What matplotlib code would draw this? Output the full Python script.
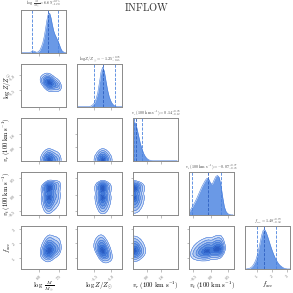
import numpy as np
import matplotlib
matplotlib.use("Agg")
import matplotlib.pyplot as plt

plt.rcParams['mathtext.fontset'] = 'cm'
plt.rcParams['font.family'] = 'serif'
plt.rcParams['font.serif'] = ['DejaVu Serif']

# parameter names, summary values and axis setup
labels = [r'$\log\ \frac{M}{M_\odot}$', r'$\log Z/Z_\odot$',
          r'$v_r\ (100\ \mathrm{km\ s^{-1}})$', r'$v_t\ (100\ \mathrm{km\ s^{-1}})$',
          r'$f_{acc}$']
medians = [6.69, -1.25, 0.14, -0.07, 1.48]
err_hi = [0.75, 0.38, 0.38, 0.37, 0.79]
err_lo = [1.20, 0.25, 0.12, 0.48, 0.50]
ranges = [(4.7, 8.0), (-2.03, -0.66), (0.0, 2.55), (-0.62, 0.68), (0.2, 3.2)]
ticks = [[6.0, 7.5], [-1.5, -1.0], [0.8, 1.6], [-0.5, 0.0, 0.5], [1, 2, 3]]
tick_text = [['6.0', '7.5'], ['-1.5', '-1.0'], ['0.8', '1.6'],
             ['-0.5', '0.0', '0.5'], ['1', '2', '3']]

# marginal densities (relative heights)
logm_h = [0, 0, 0, 0, 0, 0, 0, 0.01, 0.03, 0.04, 0.03, 0.01, 0.01, 0.03, 0.07,
          0.15, 0.25, 0.40, 0.60, 0.82, 0.98, 1.0, 0.88, 0.70, 0.55, 0.45, 0.38,
          0.30, 0.22, 0.12, 0.05, 0.02, 0, 0]
logz_h = [0, 0, 0, 0, 0, 0, 0, 0, 0.02, 0.05, 0.10, 0.20, 0.35, 0.60, 0.88, 1.0,
          0.90, 0.65, 0.42, 0.25, 0.14, 0.07, 0.03, 0.01, 0, 0, 0, 0]
vr_h = [1.0, 0.97, 0.85, 0.65, 0.45, 0.30, 0.18, 0.10, 0.05, 0.02, 0.01, 0, 0,
        0, 0, 0, 0, 0, 0, 0, 0, 0, 0, 0, 0, 0]
vt_h = [0.05, 0.10, 0.17, 0.25, 0.33, 0.42, 0.52, 0.62, 0.72, 0.80, 0.88, 0.93,
        0.90, 0.80, 0.78, 0.88, 0.97, 1.0, 0.95, 0.75, 0.45, 0.20, 0.08, 0.03,
        0.01, 0, 0]
facc_h = [0, 0, 0.01, 0.02, 0.04, 0.08, 0.14, 0.22, 0.34, 0.50, 0.68, 0.86, 0.98,
          1.0, 0.93, 0.82, 0.70, 0.58, 0.47, 0.37, 0.28, 0.21, 0.15, 0.10, 0.07,
          0.04, 0.02, 0.01, 0, 0, 0]
grids = [np.linspace(4.7, 8.0, len(logm_h)), np.linspace(-2.0, -0.65, len(logz_h)),
         np.linspace(0.0, 2.5, len(vr_h)), np.linspace(-0.65, 0.65, len(vt_h)),
         np.linspace(0.2, 3.2, len(facc_h))]
heights = [logm_h, logz_h, vr_h, vt_h, facc_h]

# tilt of each 2d blob (change in row variable per unit of column variable)
tilt = {(1, 0): -0.15, (3, 0): 0.08, (4, 0): 0.25, (4, 1): -1.4, (4, 3): 0.45}

mass_levels = [0.9, 0.8, 0.65, 0.5, 0.3, 0.12]
fill_cols = ['#d4e1f7', '#adc6f0', '#86abe8', '#6292e0', '#4279d6', '#2a5cc2']
line_col = '#3b72d8'
diag_col = '#5a8ee4'
spine_col = '#8a8a8a'


def style(ax):
    for s in ax.spines.values():
        s.set_color(spine_col)
        s.set_linewidth(0.7)
    ax.tick_params(length=1.8, width=0.4, color=spine_col, labelsize=2.6,
                   pad=0.5, labelcolor='#555555')


fig, axes = plt.subplots(5, 5, figsize=(2.93, 2.93), dpi=100)
fig.subplots_adjust(left=0.072, right=0.99, bottom=0.082, top=0.966,
                    wspace=0.25, hspace=0.27)

n = 5
for i in range(n):
    for j in range(n):
        ax = axes[i, j]
        if j > i:
            ax.axis('off')
            continue
        style(ax)
        ax.set_xlim(ranges[j])
        ax.set_xticks(ticks[j])
        if i == n - 1:
            ax.set_xticklabels(['$' + t + '$' for t in tick_text[j]], rotation=45)
            ax.set_xlabel(labels[j], fontsize=4.8)
            ax.xaxis.set_label_coords(0.5, -0.25)
        else:
            ax.set_xticklabels([])
        if i == j:
            x = grids[i]
            h = np.array(heights[i])
            ax.fill_between(x, h, color=diag_col, alpha=0.9, lw=0)
            ax.plot(x, h, color='#4a7fdc', lw=0.4)
            ax.set_ylim(0, 1.08)
            ax.set_yticks([])
            m = medians[i]
            ax.axvline(m, color='#2d5fc0', ls='--', lw=0.6)
            ax.axvline(m - err_lo[i], color='#4a82de', ls='--', lw=0.6)
            ax.axvline(m + err_hi[i], color='#4a82de', ls='--', lw=0.6)
            name = labels[i].strip('$')
            ax.set_title(r'$%s = %.2f^{+%.2f}_{-%.2f}$' % (name, m, err_hi[i], err_lo[i]),
                         fontsize=3.0, pad=1.0, color='#444444')
            continue
        # 2d panel
        xs = np.linspace(ranges[j][0], ranges[j][1], 150)
        ys = np.linspace(ranges[i][0], ranges[i][1], 150)
        X, Y = np.meshgrid(xs, ys)
        k = tilt.get((i, j), 0.0)
        px = np.interp(X, grids[j], heights[j], left=0, right=0)
        py = np.interp(Y - k * (X - medians[j]), grids[i], heights[i], left=0, right=0)
        Z = px * py
        flat = np.sort(Z.ravel())[::-1]
        cum = np.cumsum(flat)
        cum /= cum[-1]
        thr = [flat[np.searchsorted(cum, f)] for f in mass_levels]
        lev = thr + [Z.max() * 1.001]
        ax.contourf(X, Y, Z, levels=lev, colors=fill_cols)
        ax.contour(X, Y, Z, levels=thr, colors=line_col, linewidths=0.4)
        ax.set_ylim(ranges[i])
        ax.set_yticks(ticks[i])
        if j == 0:
            ax.set_yticklabels(['$' + t + '$' for t in tick_text[i]], rotation=45)
            ax.set_ylabel(labels[i], fontsize=4.6)
            ax.yaxis.set_label_coords(-0.17, 0.5)
        else:
            ax.set_yticklabels([])

fig.text(0.5, 0.975, r'$\mathrm{INFLOW}$', ha='center', va='center',
         fontsize=7.5, color='#333333')

fig.savefig('out.png', dpi=100)
